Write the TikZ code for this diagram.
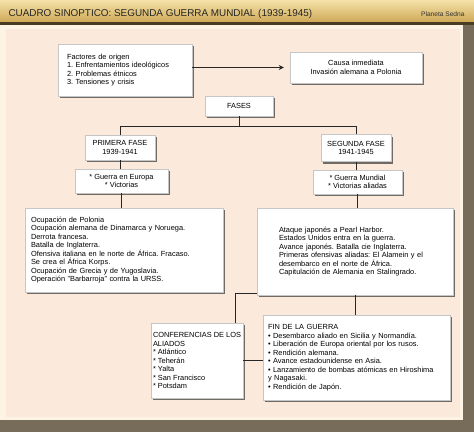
\documentclass[tikz,border=0pt]{standalone}
\usepackage{fontspec}
\setmainfont{Liberation Sans}
\usepackage{xcolor}
\usetikzlibrary{shadows,arrows.meta,calc}
\definecolor{fondo}{HTML}{766C59}
\definecolor{panel}{HTML}{FBE9DB}
\definecolor{borde}{HTML}{FDF4E6}
\definecolor{oroclaro}{HTML}{F4E2A8}
\definecolor{orooscuro}{HTML}{CFA957}
\definecolor{linea}{HTML}{4A3C22}
\frenchspacing

\begin{document}
\begin{tikzpicture}[x=1pt,y=-1pt,
  caja/.style={fill=white, draw=gray!45, line width=0.3pt, inner ysep=0pt,
    drop shadow={shadow xshift=2pt, shadow yshift=-2pt, fill=black!85, opacity=0.65},
    font=\fontsize{7.4}{8.5}\selectfont},
  conector/.style={draw=black!85, line width=0.8pt}]
\useasboundingbox (0,0) rectangle (474,432);
\fill[fondo] (0,0) rectangle (474,432);
\fill[borde] (0,24) rectangle (463,420);
\fill[panel] (6,29) rectangle (460,417);
\shade[top color=oroclaro, bottom color=orooscuro] (0,0) rectangle (474,22);
\fill[linea] (0,22) rectangle (474,25);
\node[anchor=west, font=\fontsize{9.9}{11}\selectfont, text=black!85] (titulo) at (5,14) {CUADRO SINOPTICO: SEGUNDA GUERRA MUNDIAL (1939-1945)};
\node[anchor=east, font=\fontsize{6.6}{7}\selectfont, text=black!80] (sedna) at (468,14) {Planeta Sedna};
% cajas
\node[caja, align=left, text width=116pt, inner xsep=9pt, minimum height=52pt] (factores) at (125,70) {Factores de origen\\1. Enfrentamientos ideológicos\\2. Problemas étnicos\\3. Tensiones y crisis};
\node[caja, align=center, minimum width=132pt, minimum height=31pt] (causa) at (356,67.5) {Causa inmediata\\Invasión alemana a Polonia};
\node[caja, align=center, minimum width=68pt, minimum height=20pt] (fases) at (239,106) {FASES};
\node[caja, align=center, minimum width=70pt, minimum height=25pt] (fase1) at (120,147.5) {PRIMERA FASE\\1939-1941};
\node[caja, align=center, minimum width=70pt, minimum height=27pt] (fase2) at (356,148) {SEGUNDA FASE\\1941-1945};
\node[caja, align=center, minimum width=93pt, minimum height=24pt] (vic1) at (121.5,181) {{*} Guerra en Europa\\{*} Victorias};
\node[caja, align=center, minimum width=89pt, minimum height=24pt] (vic2) at (357.5,182) {{*} Guerra Mundial\\{*} Victorias aliadas};
\node[caja, align=left, text width=186pt, inner xsep=6pt, minimum height=84pt] (ocup) at (124,250) {Ocupación de Polonia\\Ocupación alemana de Dinamarca y Noruega.\\Derrota francesa.\\Batalla de Inglaterra.\\Ofensiva italiana en le norte de África. Fracaso.\\Se crea el África Korps.\\Ocupación de Grecia y de Yugoslavia.\\Operación "Barbarroja" contra la URSS.};
\node[caja, align=left, text width=152pt, inner xsep=22pt, minimum height=87pt] (ataque) at (355,251.5) {Ataque japonés a Pearl Harbor.\\Estados Unidos entra en la guerra.\\Avance japonés. Batalla cie Inglaterra.\\Primeras ofensivas aliadas: El Alamein y el\\desembarco en el norte de África.\\Capitulación de Alemania en Stalingrado.};
\node[caja, align=left, minimum width=92pt, inner xsep=2pt, minimum height=75pt] (confer) at (197,360.5) {CONFERENCIAS DE LOS\\ALIADOS\\{*} Atlántico\\{*} Teherán\\{*} Yalta\\{*} San Francisco\\{*} Potsdam};
\node[caja, align=left, text width=177pt, inner xsep=5pt, minimum height=85pt] (fin) at (356.5,357.5) {FIN DE LA GUERRA\\• Desembarco aliado en Sicilia y Normandía.\\• Liberación de Europa oriental por los rusos.\\• Rendición alemana.\\• Avance estadounidense en Asia.\\• Lanzamiento de bombas atómicas en Hiroshima\\y Nagasaki.\\• Rendición de Japón.};
% conectores
\coordinate (reparto) at ($(fases.south)+(0,10)$);
\draw[conector, -{Stealth[length=5pt,width=5pt]}, shorten >=6pt] (factores.east |- causa.west) -- (causa.west);
\draw[conector] (fases.south) -- (reparto) -| (fase1.north);
\draw[conector] (reparto) -| (fase2.north);
\draw[conector] (fase1.south) -- (fase1.south |- vic1.north);
\draw[conector] (fase2.south) -- (fase2.south |- vic2.north);
\draw[conector] (vic1.south) -- (vic1.south |- ocup.north);
\draw[conector] (vic2.south) -- (vic2.south |- ataque.north);
\draw[conector] (ataque.south) -- (ataque.south |- fin.north);
\draw[conector] ([yshift=2pt]ataque.south west) -| ([xshift=-8pt]confer.north east);
\draw[conector] (confer.east) -- (confer.east -| fin.west);
\end{tikzpicture}
\end{document}
